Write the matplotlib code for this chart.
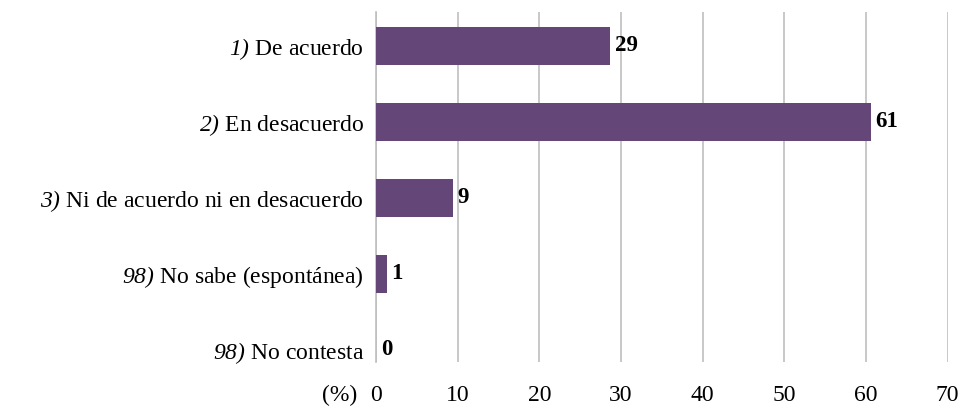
import matplotlib.pyplot as plt
import numpy as np

plt.rcParams['font.family'] = 'Liberation Serif'
plt.rcParams['mathtext.fontset'] = 'custom'
# truco: \mathrm usa la cursiva, asi los numeros salen inclinados
plt.rcParams['mathtext.rm'] = 'Liberation Serif:italic'
plt.rcParams['mathtext.it'] = 'Liberation Serif:italic'

# datos
prefijos = ['1)', '2)', '3)', '98)', '98)']
categorias = ['De acuerdo', 'En desacuerdo', 'Ni de acuerdo ni en desacuerdo',
              'No sabe (espontánea)', 'No contesta']
valores = [28.7, 60.6, 9.4, 1.3, 0.0]
etiquetas = ['29', '61', '9', '1', '0']
marcas_x = [0, 10, 20, 30, 40, 50, 60, 70]

color_barra = '#644678'
color_grid = '#bfbfbf'
tam = 17

fig = plt.figure(figsize=(9.63, 4.08), dpi=100)
ax = fig.add_axes([376/963, 1-362/408, (947.5-376)/963, 350/408])

pos = np.arange(len(categorias))
ax.barh(pos, valores, height=0.5, color=color_barra, zorder=3)

for p, v, t in zip(pos, valores, etiquetas):
    ax.annotate(t, xy=(v, p), xytext=(3.5, 0), textcoords='offset points',
                ha='left', va='center', fontsize=16.5, fontweight='bold', zorder=4)

ax.set_yticks(pos)
ax.set_yticklabels([r'$\mathrm{%s}$ %s' % (a, b) for a, b in zip(prefijos, categorias)],
                   fontsize=tam)
ax.set_ylim(4.158, -0.447)

ax.set_xlim(0, 70)
ax.set_xticks(marcas_x)
ax.set_xticklabels([str(x) for x in marcas_x], fontsize=tam)
ax.annotate('(%)', xy=(0, 0), xycoords=('data', 'axes fraction'),
            xytext=(-13.5, -16.5), textcoords='offset points',
            ha='right', va='top', fontsize=tam)

ax.tick_params(axis='both', length=0)
ax.tick_params(axis='y', pad=8.5)
ax.tick_params(axis='x', pad=16.5)
ax.grid(axis='x', color=color_grid, linewidth=1.2, zorder=0)
for s in ['top', 'right', 'bottom']:
    ax.spines[s].set_visible(False)
ax.spines['left'].set_color(color_grid)
ax.spines['left'].set_linewidth(1.2)

fig.savefig('out.png', dpi=100)
